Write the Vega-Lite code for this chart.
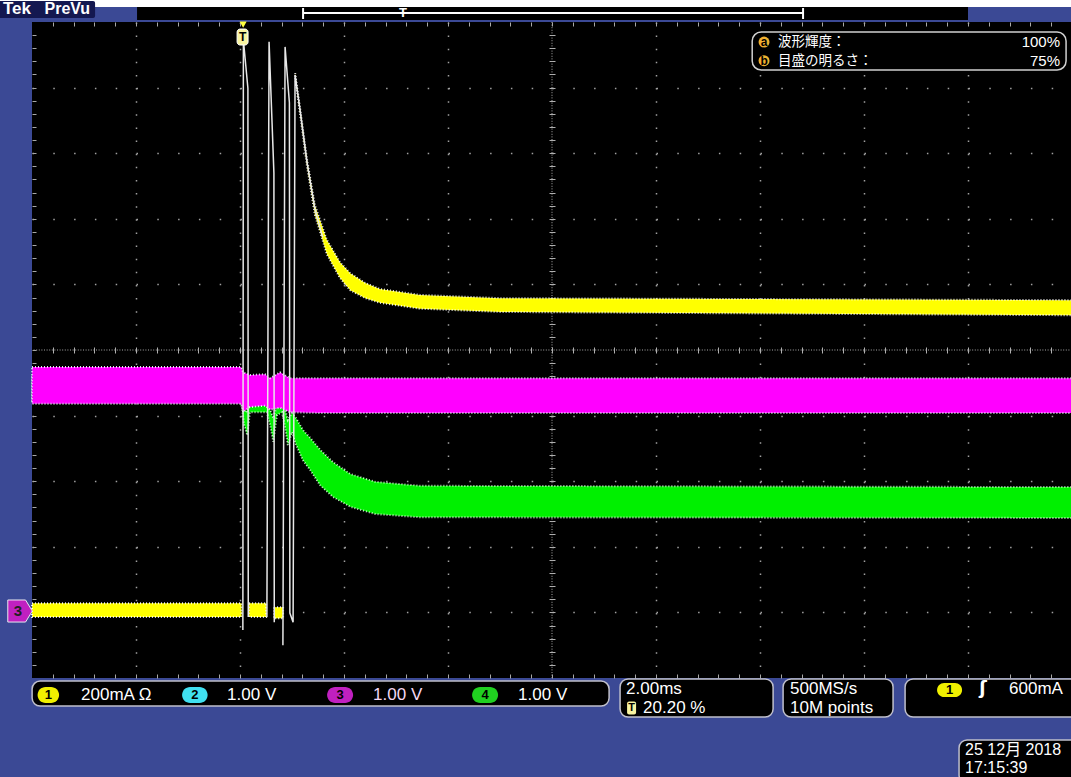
{
  "$schema": "https://vega.github.io/schema/vega-lite/v6.json",
  "width": 1040,
  "height": 656,
  "autosize": {"type": "none"},
  "padding": {"left": 32, "top": 22, "right": 0, "bottom": 99},
  "background": "#3b4995",
  "config": {
    "view": {"fill": "#000000", "stroke": null},
    "text": {"font": "Liberation Sans, Noto Sans CJK JP", "fontSize": 17, "color": "#ffffff", "baseline": "middle", "align": "left"}
  },
  "datasets": {
    "one": [{"k": 1}],
    "ch4": [
      {"t": -4.04, "hi": -0.38, "lo": -0.76},
      {"t": -0.02, "hi": -0.38, "lo": -0.76},
      {"t": 0.04, "hi": -0.84, "lo": -1.14},
      {"t": 0.10, "hi": -0.95, "lo": -1.30},
      {"t": 0.15, "hi": -0.84, "lo": -0.95},
      {"t": 0.48, "hi": -0.84, "lo": -0.95},
      {"t": 0.54, "hi": -0.91, "lo": -1.14},
      {"t": 0.60, "hi": -1.04, "lo": -1.40},
      {"t": 0.67, "hi": -0.84, "lo": -0.99},
      {"t": 0.77, "hi": -0.84, "lo": -0.95},
      {"t": 0.83, "hi": -0.91, "lo": -1.19},
      {"t": 0.88, "hi": -1.07, "lo": -1.45},
      {"t": 0.96, "hi": -0.96, "lo": -1.25},
      {"t": 1.04, "hi": -1.04, "lo": -1.45},
      {"t": 1.17, "hi": -1.22, "lo": -1.68},
      {"t": 1.31, "hi": -1.34, "lo": -1.83},
      {"t": 1.50, "hi": -1.52, "lo": -2.06},
      {"t": 1.75, "hi": -1.71, "lo": -2.24},
      {"t": 2.08, "hi": -1.89, "lo": -2.39},
      {"t": 2.56, "hi": -2.01, "lo": -2.50},
      {"t": 3.42, "hi": -2.07, "lo": -2.55},
      {"t": 15.96, "hi": -2.09, "lo": -2.56}
    ],
    "ch3": [
      {"t": -4.04, "hi": -0.26, "lo": -0.82},
      {"t": -0.02, "hi": -0.26, "lo": -0.82},
      {"t": 0.02, "hi": -0.34, "lo": -0.95},
      {"t": 0.15, "hi": -0.38, "lo": -0.87},
      {"t": 0.44, "hi": -0.37, "lo": -0.85},
      {"t": 0.54, "hi": -0.43, "lo": -0.91},
      {"t": 0.73, "hi": -0.34, "lo": -0.88},
      {"t": 0.92, "hi": -0.43, "lo": -0.95},
      {"t": 1.50, "hi": -0.43, "lo": -0.96},
      {"t": 15.96, "hi": -0.43, "lo": -0.96}
    ],
    "ch1": [
      {"seg": "a", "t": -4.04, "hi": -3.86, "lo": -4.07},
      {"seg": "a", "t": -0.01, "hi": -3.86, "lo": -4.07},
      {"seg": "b", "t": 0.135, "hi": -3.86, "lo": -4.07},
      {"seg": "b", "t": 0.462, "hi": -3.86, "lo": -4.07},
      {"seg": "c", "t": 0.615, "hi": -3.92, "lo": -4.09},
      {"seg": "c", "t": 0.788, "hi": -3.92, "lo": -4.09},
      {"seg": "d", "t": 1.02, "hi": 4.22, "lo": 4.16},
      {"seg": "d", "t": 1.12, "hi": 3.66, "lo": 3.57},
      {"seg": "d", "t": 1.25, "hi": 2.90, "lo": 2.79},
      {"seg": "d", "t": 1.40, "hi": 2.21, "lo": 2.06},
      {"seg": "d", "t": 1.63, "hi": 1.68, "lo": 1.46},
      {"seg": "d", "t": 1.88, "hi": 1.34, "lo": 1.10},
      {"seg": "d", "t": 2.08, "hi": 1.17, "lo": 0.91},
      {"seg": "d", "t": 2.37, "hi": 1.02, "lo": 0.79},
      {"seg": "d", "t": 2.65, "hi": 0.93, "lo": 0.72},
      {"seg": "d", "t": 3.42, "hi": 0.84, "lo": 0.63},
      {"seg": "d", "t": 4.96, "hi": 0.79, "lo": 0.58},
      {"seg": "d", "t": 15.96, "hi": 0.76, "lo": 0.53}
    ],
    "ch1edge": [
      {"seg": 1, "t": 0.015, "v": -4.27},
      {"seg": 1, "t": 0.025, "v": 4.73},
      {"seg": 1, "t": 0.112, "v": 3.99},
      {"seg": 1, "t": 0.119, "v": -4.07},
      {"seg": 2, "t": 0.477, "v": -4.07},
      {"seg": 2, "t": 0.519, "v": 4.70},
      {"seg": 2, "t": 0.612, "v": 2.70},
      {"seg": 2, "t": 0.619, "v": -4.15},
      {"seg": 3, "t": 0.785, "v": -4.50},
      {"seg": 3, "t": 0.827, "v": 4.62},
      {"seg": 3, "t": 0.910, "v": 3.77},
      {"seg": 3, "t": 0.919, "v": -4.01},
      {"seg": 3, "t": 0.981, "v": -4.15},
      {"seg": 3, "t": 1.019, "v": 4.19},
      {"seg": 3, "t": 1.12, "v": 3.63},
      {"seg": 3, "t": 1.25, "v": 2.86},
      {"seg": 3, "t": 1.40, "v": 2.15},
      {"seg": 3, "t": 1.55, "v": 1.72}
    ]
  },
  "resolve": {"axis": {"x": "independent", "y": "independent"}},
  "layer": [
    {
      "data": {"name": "one"},
      "mark": {"type": "rule", "color": "#a8a8a8", "strokeDash": [1, 1.6], "strokeWidth": 1},
      "encoding": {"x": {"datum": 5.96, "type": "quantitative", "scale": {"domain": [-4.04, 15.96], "nice": false, "zero": false}, "axis": null}}
    },
    {
      "data": {"name": "one"},
      "mark": {"type": "rule", "color": "#a8a8a8", "strokeDash": [1, 1.6], "strokeWidth": 1},
      "encoding": {"y": {"datum": 0, "type": "quantitative", "scale": {"domain": [-5, 5], "nice": false, "zero": false}, "axis": null}}
    },
    {
      "data": {"name": "ch4"},
      "mark": {"type": "area", "color": "#00f000", "stroke": "#d8ffd8", "strokeWidth": 2, "strokeDash": [1, 2], "strokeOpacity": 0.9},
      "encoding": {
        "x": {"field": "t", "type": "quantitative", "scale": {"domain": [-4.04, 15.96], "nice": false, "zero": false},
          "axis": {"grid": true, "gridColor": "#a0a0a0", "gridDash": [1.5, 11.62], "gridWidth": 1.5, "values": [-2.04, -0.04, 1.96, 3.96, 7.96, 9.96, 11.96, 13.96], "ticks": false, "labels": false, "domain": false, "title": null}},
        "y": {"field": "hi", "type": "quantitative", "scale": {"domain": [-5, 5], "nice": false, "zero": false},
          "axis": {"grid": true, "gridColor": "#a0a0a0", "gridDash": [1.5, 19.3], "gridWidth": 1.5, "values": [-4, -3, -2, -1, 1, 2, 3, 4], "ticks": false, "labels": false, "domain": false, "title": null}},
        "y2": {"field": "lo"}
      }
    },
    {
      "data": {"name": "ch3"},
      "mark": {"type": "area", "color": "#ff00ff", "stroke": "#f0f8ff", "strokeWidth": 2, "strokeDash": [1, 2], "strokeOpacity": 0.9},
      "encoding": {
        "x": {"field": "t", "type": "quantitative",
          "axis": {"orient": "bottom", "grid": false, "ticks": true, "tickSize": -4, "tickColor": "#a8a8a8", "labels": false, "domain": false, "title": null,
            "values": [-3.64, -3.24, -2.84, -2.44, -2.04, -1.64, -1.24, -0.84, -0.44, -0.04, 0.36, 0.76, 1.16, 1.56, 1.96, 2.36, 2.76, 3.16, 3.56, 3.96, 4.36, 4.76, 5.16, 5.56, 5.96, 6.36, 6.76, 7.16, 7.56, 7.96, 8.36, 8.76, 9.16, 9.56, 9.96, 10.36, 10.76, 11.16, 11.56, 11.96, 12.36, 12.76, 13.16, 13.56, 13.96, 14.36, 14.76, 15.16, 15.56]}},
        "y": {"field": "hi", "type": "quantitative",
          "axis": {"orient": "left", "grid": false, "ticks": true, "tickSize": -4, "tickColor": "#a8a8a8", "labels": false, "domain": false, "title": null,
            "values": [-4.8, -4.6, -4.4, -4.2, -4, -3.8, -3.6, -3.4, -3.2, -3, -2.8, -2.6, -2.4, -2.2, -2, -1.8, -1.6, -1.4, -1.2, -1, -0.8, -0.6, -0.4, -0.2, 0, 0.2, 0.4, 0.6, 0.8, 1, 1.2, 1.4, 1.6, 1.8, 2, 2.2, 2.4, 2.6, 2.8, 3, 3.2, 3.4, 3.6, 3.8, 4, 4.2, 4.4, 4.6, 4.8]}},
        "y2": {"field": "lo"}
      }
    },
    {
      "data": {"name": "ch1"},
      "mark": {"type": "area", "color": "#ffff00", "stroke": "#ffffff", "strokeWidth": 2, "strokeDash": [1, 2], "strokeOpacity": 0.9},
      "encoding": {
        "x": {"field": "t", "type": "quantitative",
          "axis": {"orient": "top", "grid": false, "ticks": true, "tickSize": -4, "tickColor": "#a8a8a8", "labels": false, "domain": false, "title": null,
            "values": [-3.64, -3.24, -2.84, -2.44, -2.04, -1.64, -1.24, -0.84, -0.44, -0.04, 0.36, 0.76, 1.16, 1.56, 1.96, 2.36, 2.76, 3.16, 3.56, 3.96, 4.36, 4.76, 5.16, 5.56, 5.96, 6.36, 6.76, 7.16, 7.56, 7.96, 8.36, 8.76, 9.16, 9.56, 9.96, 10.36, 10.76, 11.16, 11.56, 11.96, 12.36, 12.76, 13.16, 13.56, 13.96, 14.36, 14.76, 15.16, 15.56]}},
        "y": {"field": "hi", "type": "quantitative", "axis": null},
        "y2": {"field": "lo"},
        "detail": {"field": "seg"}
      }
    },
    {
      "data": {"name": "ch1edge"},
      "mark": {"type": "line", "color": "#e8e8e8", "strokeWidth": 1.5},
      "encoding": {
        "x": {"field": "t", "type": "quantitative",
          "axis": {"orient": "bottom", "offset": -331, "grid": false, "ticks": true, "tickSize": 6, "tickColor": "#b0b0b0", "labels": false, "domain": false, "title": null,
            "values": [-3.64, -3.24, -2.84, -2.44, -2.04, -1.64, -1.24, -0.84, -0.44, -0.04, 0.36, 0.76, 1.16, 1.56, 1.96, 2.36, 2.76, 3.16, 3.56, 3.96, 4.36, 4.76, 5.16, 5.56, 5.96, 6.36, 6.76, 7.16, 7.56, 7.96, 8.36, 8.76, 9.16, 9.56, 9.96, 10.36, 10.76, 11.16, 11.56, 11.96, 12.36, 12.76, 13.16, 13.56, 13.96, 14.36, 14.76, 15.16, 15.56]}},
        "y": {"field": "v", "type": "quantitative",
          "axis": {"orient": "left", "offset": -523, "grid": false, "ticks": true, "tickSize": 6, "tickColor": "#b0b0b0", "labels": false, "domain": false, "title": null,
            "values": [-4.8, -4.6, -4.4, -4.2, -4, -3.8, -3.6, -3.4, -3.2, -3, -2.8, -2.6, -2.4, -2.2, -2, -1.8, -1.6, -1.4, -1.2, -1, -0.8, -0.6, -0.4, -0.2, 0.2, 0.4, 0.6, 0.8, 1, 1.2, 1.4, 1.6, 1.8, 2, 2.2, 2.4, 2.6, 2.8, 3, 3.2, 3.4, 3.6, 3.8, 4, 4.2, 4.4, 4.6, 4.8]}},
        "detail": {"field": "seg"}
      }
    },
    {
      "data": {"name": "one"},
      "mark": {"type": "rect", "fill": "#ffffff"},
      "encoding": {"x": {"datum": -4.7, "type": "quantitative", "axis": null}, "x2": {"datum": 16.1}, "y": {"datum": 5.229, "type": "quantitative", "axis": null}, "y2": {"datum": 5.45}}
    },
    {
      "data": {"name": "one"},
      "mark": {"type": "rect", "fill": "#000000"},
      "encoding": {"x": {"datum": -2.02, "type": "quantitative", "axis": null}, "x2": {"datum": 13.96}, "y": {"datum": 5.229, "type": "quantitative", "axis": null}, "y2": {"datum": 5.03}}
    },
    {
      "data": {"name": "one"},
      "mark": {"type": "rule", "color": "#ffffff", "strokeWidth": 2},
      "encoding": {"x": {"datum": 1.173, "type": "quantitative", "axis": null}, "x2": {"datum": 10.788}, "y": {"datum": 5.137, "type": "quantitative", "axis": null}}
    },
    {
      "data": {"name": "one"},
      "mark": {"type": "rule", "color": "#ffffff", "strokeWidth": 2},
      "encoding": {"x": {"datum": 1.173, "type": "quantitative", "axis": null}, "y": {"datum": 5.213, "type": "quantitative", "axis": null}, "y2": {"datum": 5.046}}
    },
    {
      "data": {"name": "one"},
      "mark": {"type": "rule", "color": "#ffffff", "strokeWidth": 2},
      "encoding": {"x": {"datum": 10.788, "type": "quantitative", "axis": null}, "y": {"datum": 5.213, "type": "quantitative", "axis": null}, "y2": {"datum": 5.046}}
    },
    {
      "data": {"name": "one"},
      "mark": {"type": "text", "text": "T", "fontSize": 13, "fontWeight": "bold", "align": "center"},
      "encoding": {"x": {"datum": 3.096, "type": "quantitative", "axis": null}, "y": {"datum": 5.13, "type": "quantitative", "axis": null}}
    },
    {
      "data": {"name": "one"},
      "mark": {"type": "rect", "fill": "#141850", "cornerRadius": 2},
      "encoding": {"x": {"datum": -4.7, "type": "quantitative", "axis": null}, "x2": {"datum": -2.827}, "y": {"datum": 5.32, "type": "quantitative", "axis": null}, "y2": {"datum": 5.06}}
    },
    {
      "data": {"name": "one"},
      "mark": {"type": "text", "text": "Tek", "fontSize": 17, "fontWeight": "bold", "color": "#ffffff"},
      "encoding": {"x": {"datum": -4.6, "type": "quantitative", "axis": null}, "y": {"datum": 5.2, "type": "quantitative", "axis": null}}
    },
    {
      "data": {"name": "one"},
      "mark": {"type": "text", "text": "PreVu", "fontSize": 16, "fontWeight": "bold", "color": "#ffffff"},
      "encoding": {"x": {"datum": -3.8, "type": "quantitative", "axis": null}, "y": {"datum": 5.2, "type": "quantitative", "axis": null}}
    },
    {
      "data": {"name": "one"},
      "mark": {"type": "point", "shape": "triangle-down", "filled": true, "color": "#ffff40", "size": 50, "opacity": 1},
      "encoding": {"x": {"datum": 0.02, "type": "quantitative", "axis": null}, "y": {"datum": 4.96, "type": "quantitative", "axis": null}}
    },
    {
      "data": {"name": "one"},
      "mark": {"type": "rect", "fill": "#f8f4a0", "stroke": "#ffffff", "strokeWidth": 1, "cornerRadius": 3},
      "encoding": {"x": {"datum": -0.096, "type": "quantitative", "axis": null}, "x2": {"datum": 0.115}, "y": {"datum": 4.893, "type": "quantitative", "axis": null}, "y2": {"datum": 4.649}}
    },
    {
      "data": {"name": "one"},
      "mark": {"type": "text", "text": "T", "fontSize": 12, "fontWeight": "bold", "color": "#000000", "align": "center"},
      "encoding": {"x": {"datum": 0.01, "type": "quantitative", "axis": null}, "y": {"datum": 4.77, "type": "quantitative", "axis": null}}
    },
    {
      "data": {"name": "one"},
      "mark": {"type": "rect", "fill": "#000000", "stroke": "#d0d0d0", "strokeWidth": 1.5, "cornerRadius": 9},
      "encoding": {"x": {"datum": 9.81, "type": "quantitative", "axis": null}, "x2": {"datum": 15.846}, "y": {"datum": 4.848, "type": "quantitative", "axis": null}, "y2": {"datum": 4.268}}
    },
    {
      "data": {"name": "one"},
      "mark": {"type": "point", "shape": "circle", "filled": true, "color": "#f0b030", "size": 120, "opacity": 1},
      "encoding": {"x": {"datum": 10.038, "type": "quantitative", "axis": null}, "y": {"datum": 4.695, "type": "quantitative", "axis": null}}
    },
    {
      "data": {"name": "one"},
      "mark": {"type": "point", "shape": "circle", "filled": true, "color": "#f0b030", "size": 120, "opacity": 1},
      "encoding": {"x": {"datum": 10.038, "type": "quantitative", "axis": null}, "y": {"datum": 4.41, "type": "quantitative", "axis": null}}
    },
    {
      "data": {"name": "one"},
      "mark": {"type": "text", "text": "a", "fontSize": 12, "fontWeight": "bold", "color": "#000000", "align": "center"},
      "encoding": {"x": {"datum": 10.038, "type": "quantitative", "axis": null}, "y": {"datum": 4.695, "type": "quantitative", "axis": null}}
    },
    {
      "data": {"name": "one"},
      "mark": {"type": "text", "text": "b", "fontSize": 12, "fontWeight": "bold", "color": "#000000", "align": "center"},
      "encoding": {"x": {"datum": 10.038, "type": "quantitative", "axis": null}, "y": {"datum": 4.41, "type": "quantitative", "axis": null}}
    },
    {
      "data": {"name": "one"},
      "mark": {"type": "text", "text": "波形輝度：", "fontSize": 13.5, "font": "Noto Sans CJK JP"},
      "encoding": {"x": {"datum": 10.308, "type": "quantitative", "axis": null}, "y": {"datum": 4.695, "type": "quantitative", "axis": null}}
    },
    {
      "data": {"name": "one"},
      "mark": {"type": "text", "text": "目盛の明るさ：", "fontSize": 13.5, "font": "Noto Sans CJK JP"},
      "encoding": {"x": {"datum": 10.308, "type": "quantitative", "axis": null}, "y": {"datum": 4.41, "type": "quantitative", "axis": null}}
    },
    {
      "data": {"name": "one"},
      "mark": {"type": "text", "text": "100%", "fontSize": 15, "align": "right"},
      "encoding": {"x": {"datum": 15.73, "type": "quantitative", "axis": null}, "y": {"datum": 4.695, "type": "quantitative", "axis": null}}
    },
    {
      "data": {"name": "one"},
      "mark": {"type": "text", "text": "75%", "fontSize": 15, "align": "right"},
      "encoding": {"x": {"datum": 15.73, "type": "quantitative", "axis": null}, "y": {"datum": 4.41, "type": "quantitative", "axis": null}}
    },
    {
      "data": {"name": "one"},
      "mark": {"type": "point", "shape": "M -1 -0.9 L 0.45 -0.9 L 1 0 L 0.45 0.9 L -1 0.9 Z", "filled": true, "color": "#c020c0", "stroke": "#e8e8f0", "strokeWidth": 1, "size": 600, "opacity": 1},
      "encoding": {"x": {"datum": -4.27, "type": "quantitative", "axis": null}, "y": {"datum": -3.979, "type": "quantitative", "axis": null}}
    },
    {
      "data": {"name": "one"},
      "mark": {"type": "text", "text": "3", "fontSize": 15, "fontWeight": "bold", "color": "#202020", "align": "center"},
      "encoding": {"x": {"datum": -4.31, "type": "quantitative", "axis": null}, "y": {"datum": -3.979, "type": "quantitative", "axis": null}}
    },
    {
      "data": {"name": "one"},
      "mark": {"type": "rect", "fill": "#000000", "stroke": "#c0c0cc", "strokeWidth": 1.5, "cornerRadius": 8},
      "encoding": {"x": {"datum": -4.038, "type": "quantitative", "axis": null}, "x2": {"datum": 7.058}, "y": {"datum": -5.046, "type": "quantitative", "axis": null}, "y2": {"datum": -5.427}}
    },
    {
      "data": {"name": "one"},
      "mark": {"type": "rect", "fill": "#f0f000", "cornerRadius": 8},
      "encoding": {"x": {"datum": -3.933, "type": "quantitative", "axis": null}, "x2": {"datum": -3.519}, "y": {"datum": -5.137, "type": "quantitative", "axis": null}, "y2": {"datum": -5.381}}
    },
    {
      "data": {"name": "one"},
      "mark": {"type": "rect", "fill": "#40e0f0", "cornerRadius": 8},
      "encoding": {"x": {"datum": -1.154, "type": "quantitative", "axis": null}, "x2": {"datum": -0.663}, "y": {"datum": -5.137, "type": "quantitative", "axis": null}, "y2": {"datum": -5.381}}
    },
    {
      "data": {"name": "one"},
      "mark": {"type": "rect", "fill": "#c020c0", "cornerRadius": 8},
      "encoding": {"x": {"datum": 1.635, "type": "quantitative", "axis": null}, "x2": {"datum": 2.135}, "y": {"datum": -5.137, "type": "quantitative", "axis": null}, "y2": {"datum": -5.381}}
    },
    {
      "data": {"name": "one"},
      "mark": {"type": "rect", "fill": "#20d020", "cornerRadius": 8},
      "encoding": {"x": {"datum": 4.423, "type": "quantitative", "axis": null}, "x2": {"datum": 4.923}, "y": {"datum": -5.137, "type": "quantitative", "axis": null}, "y2": {"datum": -5.381}}
    },
    {
      "data": {"name": "one"},
      "mark": {"type": "text", "text": "1", "fontSize": 13, "fontWeight": "bold", "color": "#000000", "align": "center"},
      "encoding": {"x": {"datum": -3.726, "type": "quantitative", "axis": null}, "y": {"datum": -5.259, "type": "quantitative", "axis": null}}
    },
    {
      "data": {"name": "one"},
      "mark": {"type": "text", "text": "2", "fontSize": 13, "fontWeight": "bold", "color": "#000000", "align": "center"},
      "encoding": {"x": {"datum": -0.909, "type": "quantitative", "axis": null}, "y": {"datum": -5.259, "type": "quantitative", "axis": null}}
    },
    {
      "data": {"name": "one"},
      "mark": {"type": "text", "text": "3", "fontSize": 13, "fontWeight": "bold", "color": "#000000", "align": "center"},
      "encoding": {"x": {"datum": 1.885, "type": "quantitative", "axis": null}, "y": {"datum": -5.259, "type": "quantitative", "axis": null}}
    },
    {
      "data": {"name": "one"},
      "mark": {"type": "text", "text": "4", "fontSize": 13, "fontWeight": "bold", "color": "#000000", "align": "center"},
      "encoding": {"x": {"datum": 4.673, "type": "quantitative", "axis": null}, "y": {"datum": -5.259, "type": "quantitative", "axis": null}}
    },
    {
      "data": {"name": "one"},
      "mark": {"type": "text", "text": "200mA Ω"},
      "encoding": {"x": {"datum": -3.096, "type": "quantitative", "axis": null}, "y": {"datum": -5.252, "type": "quantitative", "axis": null}}
    },
    {
      "data": {"name": "one"},
      "mark": {"type": "text", "text": "1.00 V"},
      "encoding": {"x": {"datum": -0.288, "type": "quantitative", "axis": null}, "y": {"datum": -5.252, "type": "quantitative", "axis": null}}
    },
    {
      "data": {"name": "one"},
      "mark": {"type": "text", "text": "1.00 V", "color": "#f4d8f4"},
      "encoding": {"x": {"datum": 2.519, "type": "quantitative", "axis": null}, "y": {"datum": -5.252, "type": "quantitative", "axis": null}}
    },
    {
      "data": {"name": "one"},
      "mark": {"type": "text", "text": "1.00 V"},
      "encoding": {"x": {"datum": 5.308, "type": "quantitative", "axis": null}, "y": {"datum": -5.252, "type": "quantitative", "axis": null}}
    },
    {
      "data": {"name": "one"},
      "mark": {"type": "rect", "fill": "#000000", "stroke": "#c0c0cc", "strokeWidth": 1.5, "cornerRadius": 8},
      "encoding": {"x": {"datum": 7.269, "type": "quantitative", "axis": null}, "x2": {"datum": 10.212}, "y": {"datum": -5.015, "type": "quantitative", "axis": null}, "y2": {"datum": -5.595}}
    },
    {
      "data": {"name": "one"},
      "mark": {"type": "text", "text": "2.00ms"},
      "encoding": {"x": {"datum": 7.385, "type": "quantitative", "axis": null}, "y": {"datum": -5.168, "type": "quantitative", "axis": null}}
    },
    {
      "data": {"name": "one"},
      "mark": {"type": "rect", "fill": "#f8f4a0", "cornerRadius": 2},
      "encoding": {"x": {"datum": 7.404, "type": "quantitative", "axis": null}, "x2": {"datum": 7.577}, "y": {"datum": -5.36, "type": "quantitative", "axis": null}, "y2": {"datum": -5.555}}
    },
    {
      "data": {"name": "one"},
      "mark": {"type": "text", "text": "T", "fontSize": 11, "fontWeight": "bold", "color": "#000000", "align": "center"},
      "encoding": {"x": {"datum": 7.49, "type": "quantitative", "axis": null}, "y": {"datum": -5.457, "type": "quantitative", "axis": null}}
    },
    {
      "data": {"name": "one"},
      "mark": {"type": "text", "text": "20.20 %"},
      "encoding": {"x": {"datum": 7.712, "type": "quantitative", "axis": null}, "y": {"datum": -5.457, "type": "quantitative", "axis": null}}
    },
    {
      "data": {"name": "one"},
      "mark": {"type": "rect", "fill": "#000000", "stroke": "#c0c0cc", "strokeWidth": 1.5, "cornerRadius": 8},
      "encoding": {"x": {"datum": 10.404, "type": "quantitative", "axis": null}, "x2": {"datum": 12.519}, "y": {"datum": -5.015, "type": "quantitative", "axis": null}, "y2": {"datum": -5.595}}
    },
    {
      "data": {"name": "one"},
      "mark": {"type": "text", "text": "500MS/s"},
      "encoding": {"x": {"datum": 10.538, "type": "quantitative", "axis": null}, "y": {"datum": -5.168, "type": "quantitative", "axis": null}}
    },
    {
      "data": {"name": "one"},
      "mark": {"type": "text", "text": "10M points"},
      "encoding": {"x": {"datum": 10.538, "type": "quantitative", "axis": null}, "y": {"datum": -5.457, "type": "quantitative", "axis": null}}
    },
    {
      "data": {"name": "one"},
      "mark": {"type": "rect", "fill": "#000000", "stroke": "#c0c0cc", "strokeWidth": 1.5, "cornerRadius": 8},
      "encoding": {"x": {"datum": 12.75, "type": "quantitative", "axis": null}, "x2": {"datum": 16.2}, "y": {"datum": -5.015, "type": "quantitative", "axis": null}, "y2": {"datum": -5.595}}
    },
    {
      "data": {"name": "one"},
      "mark": {"type": "rect", "fill": "#f0f000", "cornerRadius": 8},
      "encoding": {"x": {"datum": 13.365, "type": "quantitative", "axis": null}, "x2": {"datum": 13.846}, "y": {"datum": -5.075, "type": "quantitative", "axis": null}, "y2": {"datum": -5.29}}
    },
    {
      "data": {"name": "one"},
      "mark": {"type": "text", "text": "1", "fontSize": 13, "fontWeight": "bold", "color": "#000000", "align": "center"},
      "encoding": {"x": {"datum": 13.605, "type": "quantitative", "axis": null}, "y": {"datum": -5.183, "type": "quantitative", "axis": null}}
    },
    {
      "data": {"name": "one"},
      "mark": {"type": "text", "text": "ʃ", "fontSize": 18, "fontWeight": "bold", "align": "center", "font": "DejaVu Sans"},
      "encoding": {"x": {"datum": 14.25, "type": "quantitative", "axis": null}, "y": {"datum": -5.168, "type": "quantitative", "axis": null}}
    },
    {
      "data": {"name": "one"},
      "mark": {"type": "text", "text": "600mA"},
      "encoding": {"x": {"datum": 14.75, "type": "quantitative", "axis": null}, "y": {"datum": -5.168, "type": "quantitative", "axis": null}}
    },
    {
      "data": {"name": "one"},
      "mark": {"type": "rect", "fill": "#000000", "stroke": "#c0c0cc", "strokeWidth": 1.5, "cornerRadius": 8},
      "encoding": {"x": {"datum": 13.788, "type": "quantitative", "axis": null}, "x2": {"datum": 16.2}, "y": {"datum": -5.945, "type": "quantitative", "axis": null}, "y2": {"datum": -6.6}}
    },
    {
      "data": {"name": "one"},
      "mark": {"type": "text", "text": "25 12月 2018", "fontSize": 16},
      "encoding": {"x": {"datum": 13.904, "type": "quantitative", "axis": null}, "y": {"datum": -6.098, "type": "quantitative", "axis": null}}
    },
    {
      "data": {"name": "one"},
      "mark": {"type": "text", "text": "17:15:39", "fontSize": 16},
      "encoding": {"x": {"datum": 13.904, "type": "quantitative", "axis": null}, "y": {"datum": -6.37, "type": "quantitative", "axis": null}}
    }
  ]
}
